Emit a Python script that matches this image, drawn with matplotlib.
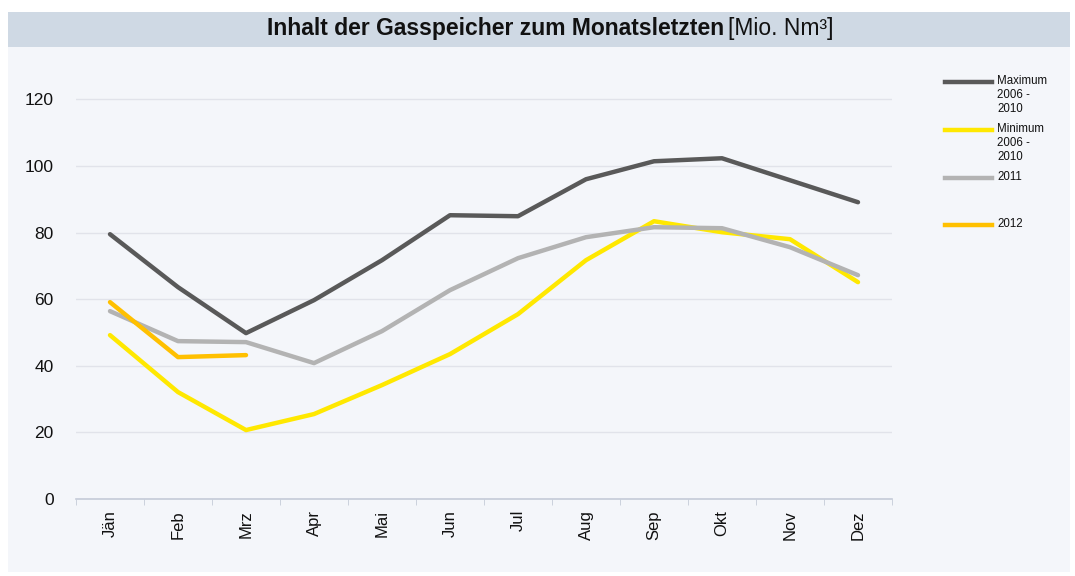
import matplotlib
matplotlib.use('Agg')
import matplotlib.pyplot as plt
from matplotlib.lines import Line2D
from matplotlib.patches import Rectangle
import numpy as np

plt.rcParams['font.family'] = ['Liberation Sans', 'DejaVu Sans']

# Monate und Werte (Mio. Nm³)
monate = ['Jän', 'Feb', 'Mrz', 'Apr', 'Mai', 'Jun', 'Jul', 'Aug', 'Sep', 'Okt', 'Nov', 'Dez']
maximum = [79.5, 63.6, 49.8, 59.7, 71.7, 85.2, 84.9, 96.0, 101.4, 102.3, 95.7, 89.1]
minimum = [49.2, 32.1, 20.7, 25.5, 34.2, 43.5, 55.5, 71.7, 83.4, 80.1, 78.0, 65.1]
jahr_2011 = [56.4, 47.4, 47.1, 40.8, 50.4, 62.7, 72.3, 78.6, 81.6, 81.3, 75.6, 67.2]
jahr_2012 = [59.1, 42.6, 43.2]

serien = [
    ('Maximum\n2006 -\n2010', maximum, '#595959'),
    ('Minimum\n2006 -\n2010', minimum, '#ffe800'),
    ('2011', jahr_2011, '#b3b3b3'),
    ('2012', jahr_2012, '#ffc000'),
]

fig = plt.figure(figsize=(10.75, 5.76), dpi=100)
fig.patch.set_facecolor('white')

# Hintergrund und Titelband
fig.add_artist(Rectangle((8 / 1075, 4 / 576), 1062 / 1075, 560 / 576,
                         transform=fig.transFigure, facecolor='#f4f6fa', edgecolor='none', zorder=-2))
fig.add_artist(Rectangle((8 / 1075, 1 - 47 / 576), 1062 / 1075, 35 / 576,
                         transform=fig.transFigure, facecolor='#cfd9e4', edgecolor='none', zorder=-1))
fig.text(724 / 1075, 1 - 29 / 576, 'Inhalt der Gasspeicher zum Monatsletzten',
         ha='right', va='center', fontsize=16.5, fontweight='bold', color='#111111')
fig.text(728 / 1075, 1 - 29 / 576, '[Mio. Nm³]',
         ha='left', va='center', fontsize=16.5, color='#111111')

ax = fig.add_axes([76 / 1075, 1 - 499 / 576, 816 / 1075, 433 / 576])
ax.set_facecolor('none')

x = np.arange(len(monate))
for name, werte, farbe in serien:
    ax.plot(x[:len(werte)], werte, color=farbe, lw=3.2, solid_capstyle='round', zorder=3)

ax.set_xlim(-0.5, len(monate) - 0.5)
ax.set_ylim(0, 130)
ax.set_yticks(range(0, 121, 20))
ax.set_xticks(x)
ax.set_xticklabels(monate, rotation=90, fontsize=12, color='#111111')
ax.set_xticks(np.arange(-0.5, len(monate), 1), minor=True)
ax.tick_params(axis='x', which='major', length=0, pad=8)
ax.tick_params(axis='x', which='minor', length=4, color='#c5cbd8')
ax.tick_params(axis='y', length=0, labelsize=12.5, pad=16, labelcolor='#111111')
ax.grid(axis='y', color='#e1e3ea', lw=1, zorder=0)
for s in ['top', 'right', 'left']:
    ax.spines[s].set_visible(False)
ax.spines['bottom'].set_color('#c5cbd8')
ax.spines['bottom'].set_linewidth(1.2)

# Legende rechts
leg_y = [82, 130, 178, 225]
for (name, werte, farbe), py in zip(serien, leg_y):
    yf = 1 - py / 576
    fig.add_artist(Line2D([945 / 1075, 992 / 1075], [yf, yf], transform=fig.transFigure,
                          color=farbe, lw=3.2))
    fig.text(997 / 1075, yf + 7 / 576, name, ha='left', va='top', fontsize=8.3,
             linespacing=1.2, color='#111111')

fig.savefig('out.png', dpi=100, facecolor=fig.get_facecolor())
